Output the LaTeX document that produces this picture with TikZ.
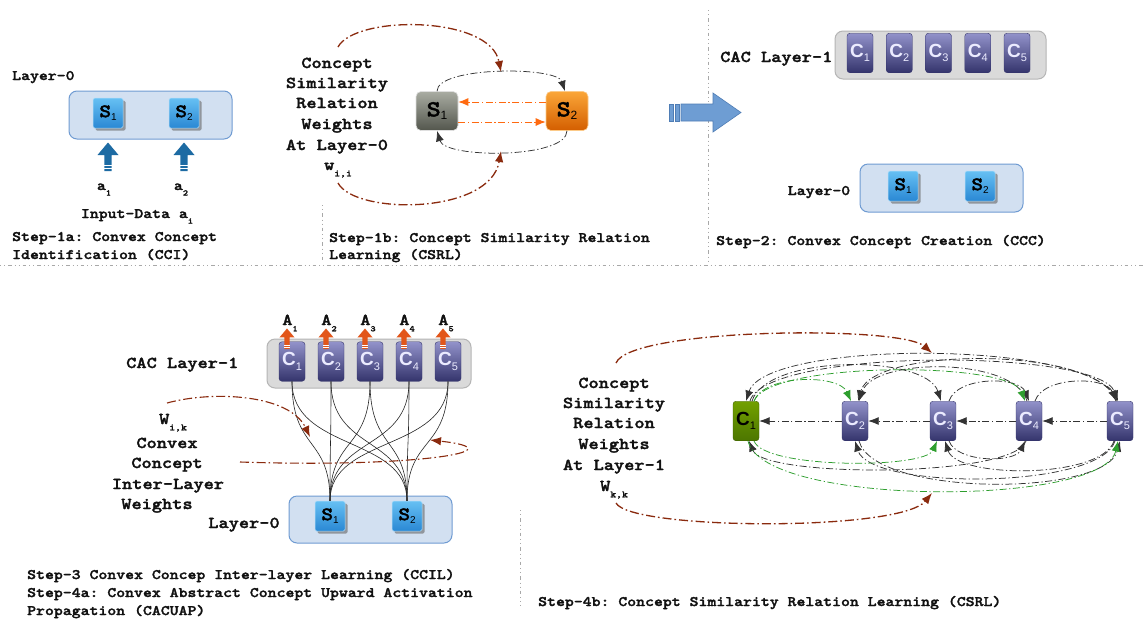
\documentclass[tikz,border=0pt]{standalone}
\usepackage{fontspec}
\newfontfamily\nodesans{Liberation Sans}
% dark typewriter face, widened to Courier proportions
\newfontfamily\courfont{lmmonolt10-bold.otf}[FakeStretch=1.17, FakeBold=1.8]
\usetikzlibrary{arrows.meta,shadows}

\definecolor{textblack}{HTML}{111111}
\definecolor{layerfill}{HTML}{D2E0F1}
\definecolor{layeredge}{HTML}{6F9BD2}
\definecolor{cacfill}{HTML}{DADADA}
\definecolor{cacedge}{HTML}{B5B5B5}
\definecolor{sblueA}{HTML}{66C0F3}
\definecolor{sblueB}{HTML}{2A88D4}
\definecolor{cpurA}{HTML}{9292CA}
\definecolor{cpurB}{HTML}{34346C}
\definecolor{cgreenA}{HTML}{72A000}
\definecolor{cgreenB}{HTML}{4C7600}
\definecolor{sgrayA}{HTML}{A9ACA2}
\definecolor{sgrayB}{HTML}{53564D}
\definecolor{sorA}{HTML}{FAA638}
\definecolor{sorB}{HTML}{D45E00}
\definecolor{linkred}{HTML}{8A2A0E}
\definecolor{linkorange}{HTML}{FF6A10}
\definecolor{linkgreen}{HTML}{2E9E2E}
\definecolor{linkgray}{HTML}{333333}
\definecolor{inblue}{HTML}{1D6BA3}
\definecolor{actorange}{HTML}{E2561A}
\definecolor{bigarrow}{HTML}{6E9DD3}
\definecolor{bigarrowedge}{HTML}{4F7DB5}
\definecolor{sepgray}{HTML}{A8A8A8}

\newcommand{\labfont}{\courfont\frenchspacing\fontsize{14.5}{18}\selectfont}
\newcommand{\biglabfont}{\courfont\frenchspacing\fontsize{16.6}{20}\selectfont}
\newcommand{\subidx}[1]{\raisebox{-0.38em}{\fontsize{8.5}{8.5}\selectfont #1}}
\newcommand{\bigsubidx}[1]{\raisebox{-0.38em}{\fontsize{9.5}{9.5}\selectfont #1}}
\newcommand{\slab}[1]{{\courfont\fontsize{19}{19}\selectfont S}\raisebox{-0.35em}{\nodesans\fontsize{10}{10}\selectfont #1}}
\newcommand{\bigslab}[1]{{\courfont\fontsize{23}{23}\selectfont S}\raisebox{-0.35em}{\nodesans\fontsize{12}{12}\selectfont #1}}
\newcommand{\clab}[1]{{\nodesans\fontsize{19}{19}\selectfont\bfseries C}\raisebox{-0.45em}{\nodesans\fontsize{11}{11}\selectfont #1}}

\begin{document}
\begin{tikzpicture}[x=1pt,y=-1pt,
  lbl/.style={font=\labfont, text=textblack, inner sep=0pt, anchor=base},
  lblw/.style={lbl, anchor=base west},
  biglbl/.style={lbl, font=\biglabfont},
  biglblw/.style={biglbl, anchor=base west},
  layerbox/.style={draw=layeredge, line width=1pt, fill=layerfill, rounded corners=8pt, inner sep=0pt},
  cacbox/.style={draw=cacedge, line width=1pt, fill=cacfill, rounded corners=8pt, inner sep=0pt},
  snode/.style={inner sep=0pt, minimum width=30pt, minimum height=30pt, rounded corners=1.5pt,
    draw=sblueA!50!white, line width=0.5pt, top color=sblueA, bottom color=sblueB,
    drop shadow={shadow xshift=2.5pt, shadow yshift=-2.5pt, opacity=0.6, fill=black!60}},
  cnode/.style={inner sep=0pt, minimum width=26pt, minimum height=39.5pt, rounded corners=3pt,
    draw=cpurB, line width=0.4pt, top color=cpurA, bottom color=cpurB, text=white!92!blue},
  gnode/.style={cnode, top color=cgreenA, bottom color=cgreenB, draw=cgreenB!80!black, text=black},
  graysnode/.style={inner sep=0pt, minimum width=42pt, minimum height=39pt, rounded corners=5pt,
    draw=white!75!gray, line width=0.6pt, top color=sgrayA, bottom color=sgrayB},
  orangesnode/.style={graysnode, draw=sorA!60!white, top color=sorA, bottom color=sorB},
  sep/.style={draw=sepgray, line width=0.9pt, dash pattern=on 1pt off 3pt on 1pt off 3pt on 3.5pt off 3pt},
  dashdot/.style={dash pattern=on 7pt off 2.5pt on 1.3pt off 2.5pt},
  simlink/.style={draw=linkgray, line width=0.75pt, dashdot, -{Latex[length=10.5pt,width=8pt]}},
  greenlink/.style={draw=linkgreen, line width=0.75pt, dashdot, -{Latex[length=10.5pt,width=8pt]}},
  orangelink/.style={draw=linkorange, line width=1pt, dashdot, -{Latex[length=10pt,width=8pt]}},
  weightlink/.style={draw=linkred, line width=1.3pt, dash pattern=on 9pt off 3pt on 1.6pt off 3pt, -{Latex[length=11pt,width=8.5pt]}},
  wire/.style={draw=black!85, line width=0.6pt},
  blockup/.pic={
    \path[pic actions] (-3.6,0) -- (-3.6,-16) -- (-10.5,-16) -- (0,-28.5) -- (10.5,-16) -- (3.6,-16) -- (3.6,0) -- cycle;
    \draw[white, line width=0.7pt] (-3.6,-2.5) -- (3.6,-2.5) (-3.6,-5.5) -- (3.6,-5.5);
  }
]
\path[use as bounding box, fill=white] (0,0) rectangle (1145,619);

% panel separators
\draw[sep] (0,265) -- (1145,265);
\draw[sep] (708,10) -- (708,262);
\draw[sep] (322,205) -- (322,262);
\draw[sep] (520,510) -- (520,606);

% ---------------- Step 1a: input layer ----------------
\node[lblw] (a-title) at (12,80) {Layer-0};
\node[layerbox, minimum width=163pt, minimum height=48pt] (a-layer) at (150.5,115) {};
\node[snode] (a-s1) at (108,113) {\slab{1}};
\node[snode] (a-s2) at (184,113) {\slab{2}};
\pic[fill=inblue] at (108,171) {blockup};
\pic[fill=inblue] at (184,171) {blockup};
\node[lbl] (a-in1) at (104,190) {a\subidx{1}};
\node[lbl] (a-in2) at (181,190) {a\subidx{2}};
\node[lbl] (a-input) at (137,218) {Input-Data a\subidx{i}};
\node[lblw] (a-step1) at (12,241) {Step-1a: Convex Concept};
\node[lblw] (a-step2) at (12,259) {Identification (CCI)};

% ---------------- Step 1b: similarity at layer 0 ----------------
\node[biglbl] (b-t1) at (337,68) {Concept};
\node[biglbl] (b-t2) at (337,88) {Similarity};
\node[biglbl] (b-t3) at (337,108) {Relation};
\node[biglbl] (b-t4) at (337,129) {Weights};
\node[biglbl] (b-t5) at (337,150) {At Layer-0};
\node[biglbl] (b-t6) at (338,170) {w\bigsubidx{i,i}};
\node[graysnode] (b-s1) at (437,111) {\bigslab{1}};
\node[orangesnode] (b-s2) at (567,111) {\bigslab{2}};
\draw[orangelink] ([yshift=9pt]b-s2.west) -- ([yshift=9pt]b-s1.east);
\draw[orangelink] ([yshift=-11pt]b-s1.east) -- ([yshift=-11pt]b-s2.west);
\draw[simlink] (b-s1.north) .. controls +(0,-25) and +(-8,-25) .. ([xshift=-2pt]b-s2.north);
\draw[simlink] (b-s2.south) .. controls +(0,28) and +(8,28) .. (b-s1.south);
\coordinate (b-w1) at (338,47);
\coordinate (b-w2) at (501,72);
\coordinate (b-w3) at (338,183);
\coordinate (b-w4) at (501,151);
\draw[weightlink] (b-w1) .. controls (355,15) and (490,15) .. (b-w2);
\draw[weightlink] (b-w3) .. controls (355,215) and (490,215) .. (b-w4);
\node[lblw] (b-step1) at (329,242) {Step-1b: Concept Similarity Relation};
\node[lblw] (b-step2) at (329,259) {Learning (CSRL)};

% transition arrow
\fill[bigarrow, draw=bigarrowedge, line width=0.6pt]
  (681,104) -- (713,104) -- (713,93) -- (741,112.5) -- (713,132) -- (713,121) -- (681,121) -- cycle;
\fill[bigarrow, draw=bigarrowedge, line width=0.6pt] (669,104) rectangle (673,121);
\fill[bigarrow, draw=bigarrowedge, line width=0.6pt] (675,104) rectangle (679,121);

% ---------------- Step 2: concept creation ----------------
\node[biglblw] (c-title) at (720,62) {CAC Layer-1};
\node[cacbox, minimum width=211pt, minimum height=48pt] (c-cac) at (940.5,55) {};
\foreach \k in {1,...,5}
  \node[cnode] (c-c\k) at ({860+39.25*(\k-1)},53) {\clab{\k}};
\node[layerbox, minimum width=163pt, minimum height=48pt] (c-layer) at (941.5,188) {};
\node[snode] (c-s1) at (903,186) {\slab{1}};
\node[snode] (c-s2) at (980,186) {\slab{2}};
\node[lbl] (c-l0) at (819,195) {Layer-0};
\node[lblw] (c-step) at (716,245) {Step-2: Convex Concept Creation (CCC)};

% ---------------- Step 3 / 4a: inter-layer weights ----------------
\node[cacbox, minimum width=204pt, minimum height=49pt] (d-cac) at (369,363.5) {};
\node[layerbox, minimum width=163pt, minimum height=47pt] (d-layer) at (370.5,519.5) {};
\foreach \k in {1,...,5} {
  \node[cnode] (d-c\k) at ({292+39*(\k-1)},361.5) {\clab{\k}};
}
\node[snode] (d-s1) at (330,516) {\slab{1}};
\node[snode] (d-s2) at (407,516) {\slab{2}};
\foreach \k in {1,...,5} {
  \foreach \s in {d-s1,d-s2}
    \draw[wire] (d-c\k.south) .. controls +(0,70) and +(0,-65) .. (\s.north);
}
\foreach \k in {1,...,5} {
  \pic[fill=actorange, scale=0.72] at ({287+39*(\k-1)},349) {blockup};
  \node[biglbl] (d-a\k) at ({290+39*(\k-1)},325) {A\subidx{\k}};
}
\node[biglblw] (d-title) at (126,368) {CAC Layer-1};
\node[biglbl] (d-t1) at (173,424) {W\bigsubidx{i,k}};
\node[biglbl] (d-t2) at (167,448) {Convex};
\node[biglbl] (d-t3) at (167,468) {Concept};
\node[biglbl] (d-t4) at (168,489) {Inter-Layer};
\node[biglbl] (d-t5) at (157,509) {Weights};
\node[biglbl] (d-l0) at (244,528) {Layer-0};
\coordinate (d-w1) at (167,403);
\coordinate (d-w2) at (310,437);
\coordinate (d-w3) at (240,462);
\coordinate (d-w4) at (430,440);
\draw[weightlink, line width=1.1pt] (d-w1) .. controls (215,390) and (290,395) .. (d-w2);
\draw[weightlink, line width=1.1pt] (d-w3) .. controls (420,468) and (520,450) .. (d-w4);
\node[lblw] (d-step1) at (27,579) {Step-3 Convex Concep Inter-layer Learning (CCIL)};
\node[lblw] (d-step2) at (27,597) {Step-4a: Convex Abstract Concept Upward Activation};
\node[lblw] (d-step3) at (27,615) {Propagation (CACUAP)};

% ---------------- Step 4b: similarity at layer 1 ----------------
\node[biglbl] (e-t1) at (614,388) {Concept};
\node[biglbl] (e-t2) at (614,408) {Similarity};
\node[biglbl] (e-t3) at (614,428) {Relation};
\node[biglbl] (e-t4) at (614,449) {Weights};
\node[biglbl] (e-t5) at (614,470) {At Layer-1};
\node[biglbl] (e-t6) at (614,491) {W\bigsubidx{k,k}};
\node[gnode] (e-c1) at (746,421) {\clab{1}};
\node[cnode] (e-c2) at (855,421) {\clab{2}};
\node[cnode] (e-c3) at (943,421) {\clab{3}};
\node[cnode] (e-c4) at (1029,421) {\clab{4}};
\node[cnode] (e-c5) at (1120,421) {\clab{5}};
% straight links
\draw[simlink] (e-c5.west) -- (e-c4.east);
\draw[simlink] (e-c4.west) -- (e-c3.east);
\draw[simlink] (e-c3.west) -- (e-c2.east);
\draw[simlink] (e-c2.west) -- (e-c1.east);
% arcs over the row
\draw[simlink] ([xshift=-3pt]e-c5.north) .. controls +(-15,-62) and +(20,-62) .. (e-c1.north);
\draw[simlink] ([xshift=4pt]e-c1.north) .. controls +(15,-53) and +(-20,-53) .. ([xshift=-2pt]e-c5.north);
\draw[simlink] ([xshift=6pt]e-c1.north) .. controls +(15,-47) and +(-15,-47) .. ([xshift=-2pt]e-c3.north);
\draw[simlink] ([xshift=-4pt]e-c5.north) .. controls +(-15,-55) and +(15,-55) .. ([xshift=3pt]e-c2.north);
\draw[simlink] ([xshift=-2pt]e-c4.north) .. controls +(-12,-44) and +(15,-44) .. ([xshift=4pt]e-c2.north);
\draw[simlink] ([xshift=6pt]e-c3.north) .. controls +(8,-25) and +(-10,-25) .. (e-c4.north);
\draw[simlink] ([xshift=6pt]e-c4.north) .. controls +(8,-25) and +(-10,-25) .. ([xshift=-4pt]e-c5.north);
\draw[greenlink] ([xshift=8pt]e-c1.north) .. controls +(10,-27) and +(-12,-27) .. ([xshift=-4pt]e-c2.north);
\draw[greenlink] ([xshift=8pt]e-c1.north) .. controls +(15,-40) and +(-15,-40) .. ([xshift=-4pt]e-c4.north);
% arcs under the row
\draw[simlink] ([xshift=-3pt]e-c4.south) .. controls +(-12,37) and +(15,37) .. ([xshift=3pt]e-c1.south);
\draw[simlink] ([xshift=-5pt]e-c5.south) .. controls +(-15,49) and +(15,49) .. (e-c2.south);
\draw[simlink] ([xshift=-6pt]e-c5.south) .. controls +(-12,38) and +(12,38) .. ([xshift=2pt]e-c3.south);
\draw[simlink] ([xshift=6pt]e-c3.south) .. controls +(8,22) and +(-10,22) .. ([xshift=-4pt]e-c4.south);
\draw[simlink] ([xshift=4pt]e-c2.south) .. controls +(15,56) and +(-15,56) .. (e-c5.south);
\draw[greenlink] ([xshift=8pt]e-c1.south) .. controls +(10,28) and +(-12,28) .. ([xshift=-6pt]e-c3.south);
\draw[greenlink] ([xshift=2pt]e-c1.south) .. controls +(15,66) and +(-15,66) .. ([xshift=-2pt]e-c5.south);
\coordinate (e-w1) at (616,363);
\coordinate (e-w2) at (932,353);
\coordinate (e-w3) at (616,503);
\coordinate (e-w4) at (932,493);
\draw[weightlink] (e-w1) .. controls (630,328) and (900,325) .. (e-w2);
\draw[weightlink] (e-w3) .. controls (630,530) and (900,532) .. (e-w4);
\node[lblw] (e-step) at (538,606) {Step-4b: Concept Similarity Relation Learning (CSRL)};
\end{tikzpicture}
\end{document}
